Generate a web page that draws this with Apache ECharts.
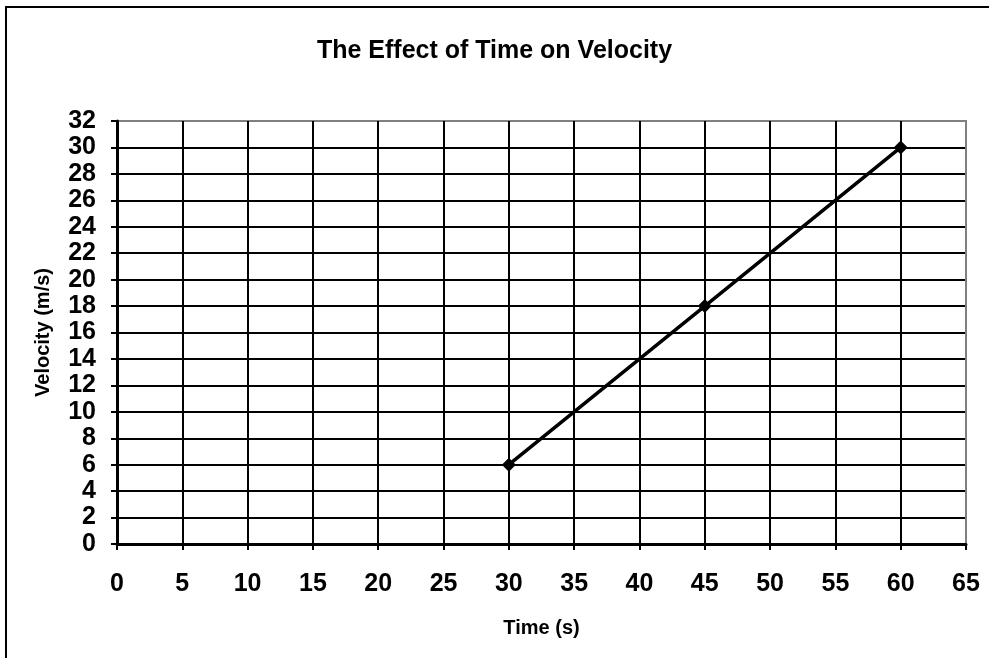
<!DOCTYPE html>
<html>
<head>
<meta charset="utf-8">
<script src="https://cdn.jsdelivr.net/npm/echarts@6/dist/echarts.min.js"></script>
<style>
html,body{margin:0;padding:0;background:#fff;}
#chart{width:989px;height:658px;}
</style>
</head>
<body>
<div id="chart"></div>
<script>
var timeValues = [30, 45, 60];
var velocityValues = [6, 18, 30];
var titleText = 'The Effect of Time on Velocity';
var xName = 'Time (s)';
var yName = 'Velocity (m/s)';

var FONT = "'Liberation Sans', Arial, sans-serif";
var chart = echarts.init(document.getElementById('chart'));

var ySplit = [];
for (var i = 0; i < 16; i++) ySplit.push('#000');
ySplit.push('#808080');
var xSplit = [];
for (var j = 0; j < 13; j++) xSplit.push('#000');
xSplit.push('#808080');

var option = {
  backgroundColor: '#fff',
  animation: false,
  title: {
    text: titleText,
    left: 'center',
    top: 34,
    textStyle: {fontFamily: FONT, fontWeight: 'bold', fontSize: 25, color: '#000'}
  },
  graphic: [{
    type: 'rect',
    shape: {x: 6, y: 7, width: 1000, height: 700},
    style: {fill: 'none', stroke: '#000', lineWidth: 2},
    silent: true, z: 100
  }],
  grid: {
    left: 117, top: 121, right: 23, bottom: 114,
    show: true, borderColor: '#808080', borderWidth: 2, backgroundColor: 'transparent'
  },
  xAxis: {
    type: 'value', min: 0, max: 65, interval: 5,
    name: xName, nameLocation: 'middle', nameGap: 74,
    nameTextStyle: {fontFamily: FONT, fontWeight: 'bold', fontSize: 20, color: '#000'},
    axisLine: {show: true, onZero: false, lineStyle: {color: '#000', width: 3}},
    axisTick: {show: true, length: 6, lineStyle: {color: '#000', width: 2}},
    axisLabel: {fontFamily: FONT, fontWeight: 'bold', fontSize: 25, color: '#000', margin: 28},
    splitLine: {show: true, lineStyle: {color: xSplit, width: 2}}
  },
  yAxis: {
    type: 'value', min: 0, max: 32, interval: 2,
    name: yName, nameLocation: 'middle', nameGap: 64,
    nameTextStyle: {fontFamily: FONT, fontWeight: 'bold', fontSize: 20, color: '#000'},
    axisLine: {show: true, onZero: false, lineStyle: {color: '#000', width: 3}},
    axisTick: {show: true, length: 6, lineStyle: {color: '#000', width: 2}},
    axisLabel: {fontFamily: FONT, fontWeight: 'bold', fontSize: 25, color: '#000', margin: 21},
    splitLine: {show: true, lineStyle: {color: ySplit, width: 2}}
  },
  series: [{
    type: 'line',
    data: timeValues.map(function (t, k) { return [t, velocityValues[k]]; }),
    symbol: 'diamond', symbolSize: 14, showSymbol: true,
    lineStyle: {color: '#000', width: 3.5},
    itemStyle: {color: '#000'},
    z: 10
  }]
};
chart.setOption(option);
</script>
</body>
</html>
